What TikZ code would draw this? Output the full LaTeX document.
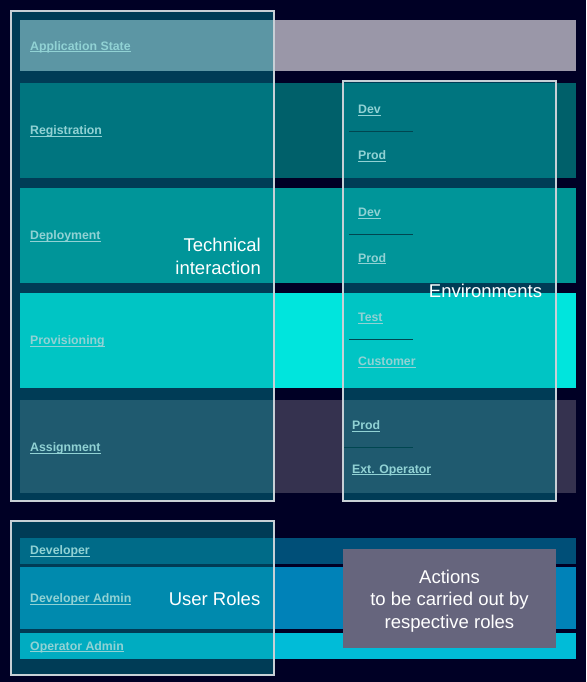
\documentclass[tikz,border=0pt]{standalone}
\usepackage{fontspec}
\setmainfont{Liberation Sans}
\usetikzlibrary{positioning}

\definecolor{bgnavy}{RGB}{0,0,37}
\definecolor{appstate}{RGB}{154,151,168}
\definecolor{registration}{RGB}{0,96,106}
\definecolor{deployment}{RGB}{0,149,149}
\definecolor{provisioning}{RGB}{0,229,221}
\definecolor{assignment}{RGB}{53,50,79}
\definecolor{developer}{RGB}{0,79,120}
\definecolor{devadmin}{RGB}{0,130,184}
\definecolor{opadmin}{RGB}{0,188,216}
\definecolor{actionsbox}{RGB}{102,101,125}
\definecolor{glassfill}{RGB}{0,150,160}
\definecolor{glassline}{RGB}{200,208,214}
\definecolor{linktext}{RGB}{145,210,212}
\definecolor{sepline}{RGB}{0,70,80}

% underlined link text
\newcommand{\ulink}[1]{\setbox0\hbox{#1}\rlap{\rule[-2pt]{\wd0}{1pt}}\box0}

\begin{document}
\begin{tikzpicture}[x=1pt,y=-1pt,
  band/.style={anchor=north west,inner sep=0pt,outer sep=0pt,minimum width=556pt},
  glass/.style={anchor=north west,inner sep=0pt,outer sep=0pt,fill=glassfill,
    fill opacity=0.4,draw=glassline,draw opacity=1,line width=1.5pt},
  link/.style={anchor=west,inner sep=0pt,text=linktext,
    font=\fontsize{12.3}{14}\selectfont\bfseries},
  caption/.style={inner sep=0pt,text=white,font=\fontsize{18.5}{22.5}\selectfont},
  sep/.style={draw=sepline,line width=1pt}]

  \useasboundingbox (0,0) rectangle (586,682);
  \fill[bgnavy] (0,0) rectangle (586,682);

  % layers
  \node[band,fill=appstate,minimum height=51pt] (app) at (20,20) {};
  \node[band,fill=registration,minimum height=95pt] (reg) at (20,83) {};
  \node[band,fill=deployment,minimum height=95pt] (dep) at (20,188) {};
  \node[band,fill=provisioning,minimum height=95pt] (prov) at (20,293) {};
  \node[band,fill=assignment,minimum height=93pt] (assign) at (20,400) {};

  % roles
  \node[band,fill=developer,minimum height=26pt] (dev) at (20,538) {};
  \node[band,fill=devadmin,minimum height=62pt] (devadm) at (20,567) {};
  \node[band,fill=opadmin,minimum height=26pt] (opadm) at (20,633) {};

  % frames
  \node[glass,minimum width=263pt,minimum height=490pt] (tech) at (11,11) {};
  \node[glass,minimum width=213pt,minimum height=420pt] (envs) at (343,81) {};
  \node[glass,minimum width=263pt,minimum height=154pt] (roles) at (11,521) {};

  \node[inner sep=0pt,fill=actionsbox,minimum width=213pt,minimum height=99pt]
    (actions) at (449.5,598.5) {};

  % environment separators
  \draw[sep] (349,131) -- (413,131);
  \draw[sep] (349,234) -- (413,234);
  \draw[sep] (349,339) -- (413,339);
  \draw[sep] (344,447) -- (413,447);

  \node[link] (applbl) at (30,47) {\ulink{Application State}};
  \node[link] (reglbl) at (30,131.5) {\ulink{Registration}};
  \node[link] (deplbl) at (30,236.5) {\ulink{Deployment}};
  \node[link] (provlbl) at (30,341.5) {\ulink{Provisioning}};
  \node[link] (assignlbl) at (30,448.5) {\ulink{Assignment}};

  \node[link] (regdev) at (358,110.5) {\ulink{Dev}};
  \node[link] (regprod) at (358,156.5) {\ulink{Prod}};
  \node[link] (depdev) at (358,213.5) {\ulink{Dev}};
  \node[link] (depprod) at (358,259) {\ulink{Prod}};
  \node[link] (provtest) at (358,318.5) {\ulink{Test}};
  \node[link] (provcust) at (358,362.5) {\ulink{Customer}};
  \node[link] (assignprod) at (352,426.5) {\ulink{Prod}};
  \node[link] (assignext) at (352,470) {\ulink{Ext. Operator}};

  \node[link] (devlbl) at (30,551.5) {\ulink{Developer}};
  \node[link] (devadmlbl) at (30,599.5) {\ulink{Developer Admin}};
  \node[link] (opadmlbl) at (30,647) {\ulink{Operator Admin}};

  \node[caption,align=right,anchor=east] (techlbl) at (261,256.3) {Technical\\interaction};
  \node[caption] (envslbl) at (485.5,290.5) {Environments};
  \node[caption,anchor=east] (roleslbl) at (260.5,598.5) {User Roles};
  \node[caption,align=center] (actionslbl) at ([yshift=-2.5pt]actions.center)
    {Actions\\to be carried out by\\respective roles};
\end{tikzpicture}
\end{document}
